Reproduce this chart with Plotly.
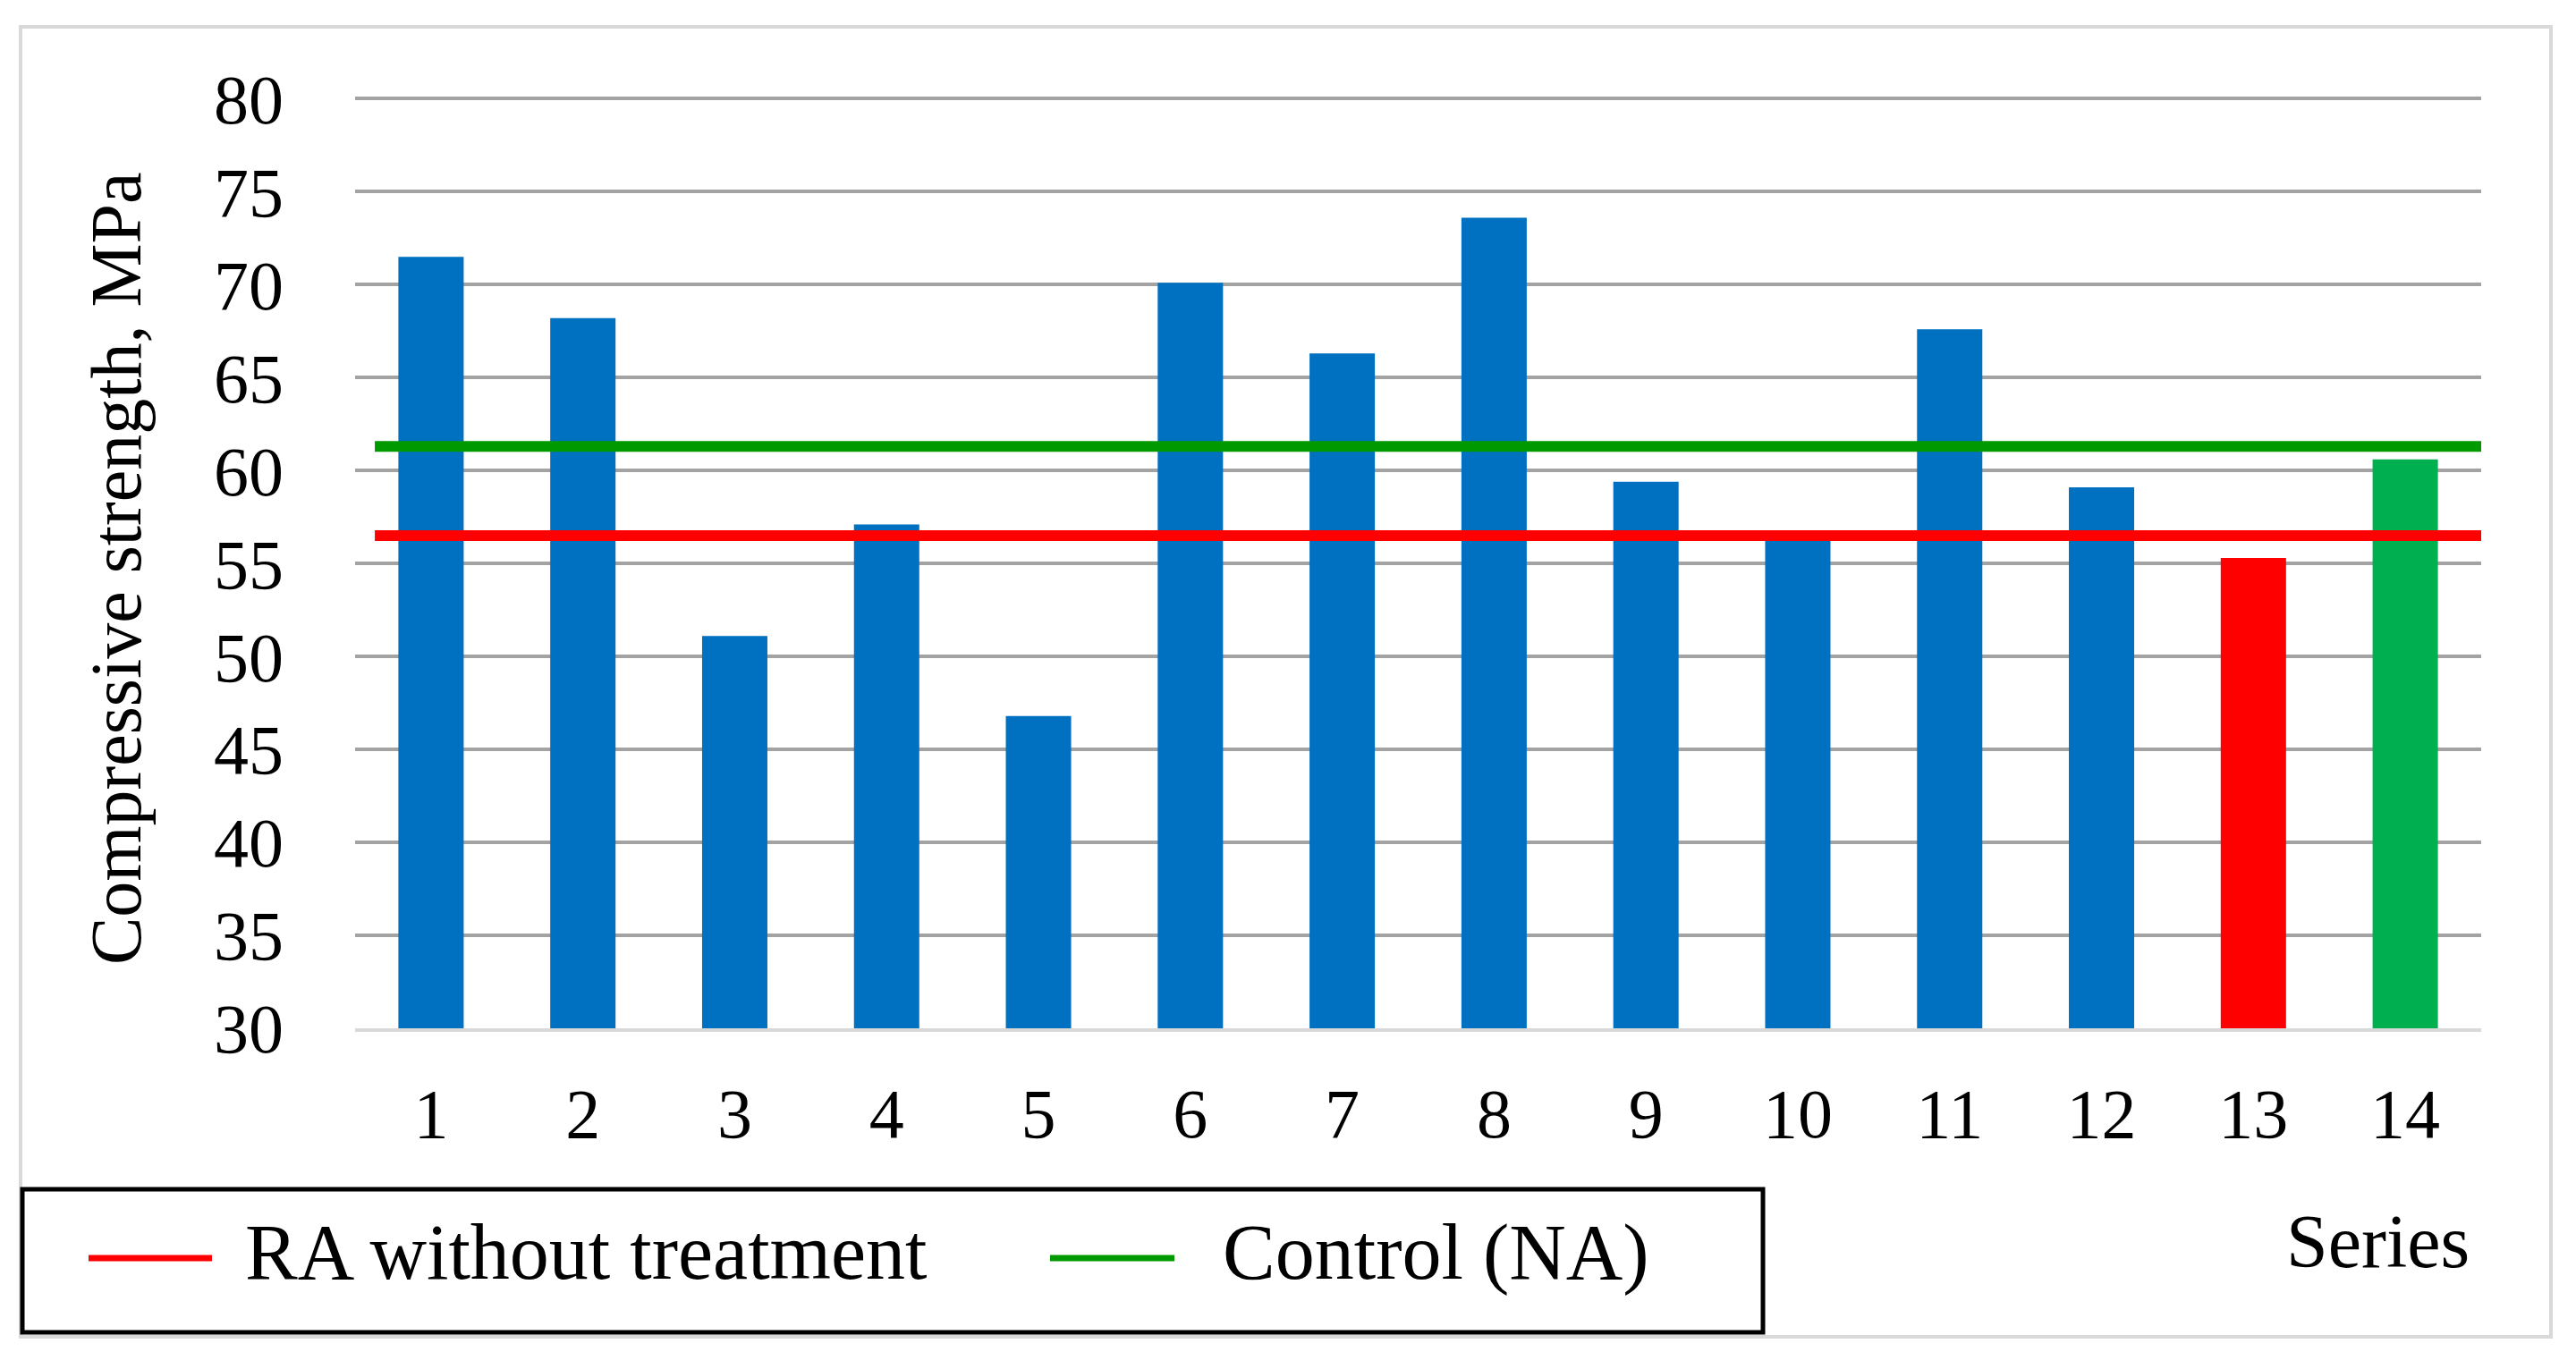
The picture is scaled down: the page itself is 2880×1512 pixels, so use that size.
import plotly.graph_objects as go

# ---- data ----
series = list(range(1, 15))
strength = [71.5, 68.2, 51.1, 57.1, 46.8, 70.1, 66.3, 73.6, 59.4, 56.6, 67.6, 59.1, 55.3, 60.6]
bar_colors = ["#0070C0"] * 12 + ["#FF0000", "#00B050"]
ra_without_treatment = 56.5
control_na = 61.3
line_x = [0.63, 14.5]
y_ticks = list(range(30, 81, 5))

FONT = "Liberation Serif"
OFF = 8  # page body margin
W, H = 2880 - OFF, 1512 - OFF
L = 397 - OFF
T = 108 - OFF
R = W - (2774 - OFF)
B = H - (1150 - OFF)
PW, PH = W - L - R, H - T - B


def px(x):
    return (x - OFF - L) / PW


def py(y):
    return (H - B - (y - OFF)) / PH


fig = go.Figure()
fig.add_trace(go.Bar(x=series, y=strength, marker=dict(color=bar_colors, line=dict(width=0)),
                     showlegend=False, hoverinfo="x+y"))
fig.add_trace(go.Scatter(x=line_x, y=[control_na] * 2, mode="lines",
                         line=dict(color="#009900", width=12), name="Control (NA)", showlegend=False))
fig.add_trace(go.Scatter(x=line_x, y=[ra_without_treatment] * 2, mode="lines",
                         line=dict(color="#FF0000", width=12), name="RA without treatment", showlegend=False))

shapes = [
    # outer frame
    dict(type="rect", xref="paper", yref="paper", x0=px(23), x1=px(2852), y0=py(1495), y1=py(30),
         line=dict(color="#d9d9d9", width=4), layer="below"),
    # legend box
    dict(type="rect", xref="paper", yref="paper", x0=px(25), x1=px(1971), y0=py(1490), y1=py(1330),
         line=dict(color="black", width=5), fillcolor="white"),
    # legend samples
    dict(type="line", xref="paper", yref="paper", x0=px(99), x1=px(237), y0=py(1407), y1=py(1407),
         line=dict(color="#FF0000", width=7)),
    dict(type="line", xref="paper", yref="paper", x0=px(1174), x1=px(1313), y0=py(1407), y1=py(1407),
         line=dict(color="#009900", width=7)),
]

annotations = [
    dict(text="Compressive strength, MPa", xref="paper", yref="paper", x=px(130), y=py(636),
         textangle=-90, showarrow=False, xanchor="center", yanchor="middle",
         font=dict(family=FONT, size=80, color="black")),
    dict(text="Series", xref="paper", yref="paper", x=px(2658), y=py(1388),
         showarrow=False, xanchor="center", yanchor="middle",
         font=dict(family=FONT, size=84, color="black")),
    dict(text="RA without treatment", xref="paper", yref="paper", x=px(272), y=py(1400),
         showarrow=False, xanchor="left", yanchor="middle",
         font=dict(family=FONT, size=88, color="black")),
    dict(text="Control (NA)", xref="paper", yref="paper", x=px(1365), y=py(1400),
         showarrow=False, xanchor="left", yanchor="middle",
         font=dict(family=FONT, size=88, color="black")),
]

fig.update_layout(
    width=W, height=H,
    margin=dict(l=L, r=R, t=T, b=B),
    paper_bgcolor="white", plot_bgcolor="white",
    bargap=0.57,
    shapes=shapes, annotations=annotations,
    font=dict(family=FONT, color="black", size=78),
)
fig.update_xaxes(range=[0.5, 14.5], tickvals=series, ticktext=[str(s) for s in series],
                 showgrid=False, showline=True, linecolor="#d9d9d9", linewidth=4,
                 ticks="", ticklabelstandoff=24, tickfont=dict(family=FONT, size=78, color="black"),
                 zeroline=False)
fig.update_yaxes(range=[30, 80.12], tickvals=y_ticks, showgrid=True, gridcolor="#a3a3a3", gridwidth=4,
                 showline=False, zeroline=False, ticks="", ticklabelstandoff=79,
                 tickfont=dict(family=FONT, size=78, color="black"))

fig.write_html("out.html")
